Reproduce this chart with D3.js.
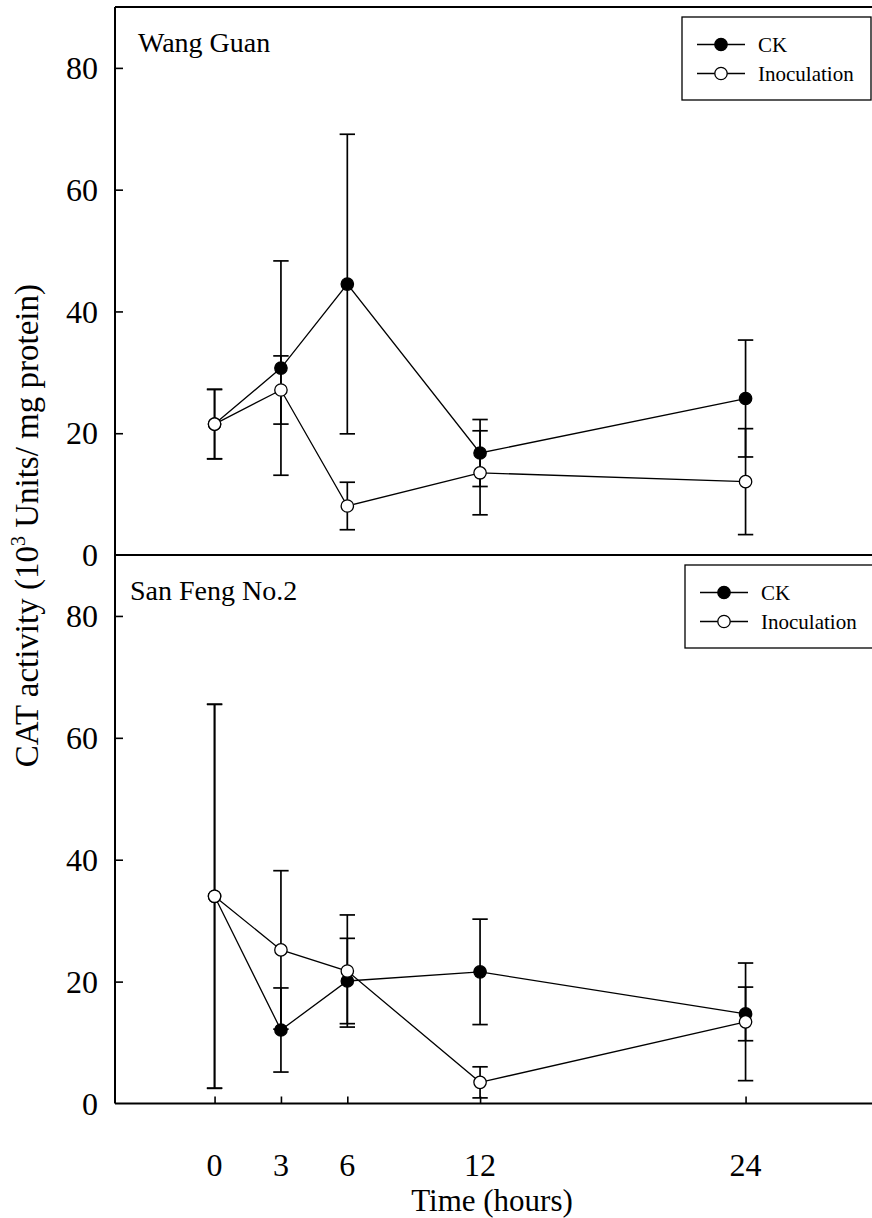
<!DOCTYPE html>
<html>
<head>
<meta charset="utf-8">
<script src="https://cdn.jsdelivr.net/npm/d3@7"></script>
<style>
  html, body { margin: 0; padding: 0; background: #fff; }
  svg { display: block; }
  text { font-family: "Liberation Serif", "Times New Roman", serif; fill: #000; }
</style>
</head>
<body>
<svg id="chart" width="872" height="1218"></svg>
<script>
// ---- data ----
const hours = [0, 3, 6, 12, 24];
const xTickLabels = ["0", "3", "6", "12", "24"];
const yTickValues = [0, 20, 40, 60, 80];
const seriesNames = ["CK", "Inoculation"];

const wgCK       = [21.5, 30.7, 44.5, 16.75, 25.7];
const wgCKErr    = [5.7, 17.6, 24.6, 5.5, 9.6];
const wgInoc     = [21.5, 27.1, 8.05, 13.5, 12.05];
const wgInocErr  = [5.7, 5.6, 3.9, 6.9, 8.7];

const sfCK       = [34.0, 12.06, 20.1, 21.6, 14.7];
const sfCKErr    = [31.5, 6.9, 7.0, 8.65, 4.4];
const sfInoc     = [34.0, 25.2, 21.74, 3.47, 13.4];
const sfInocErr  = [31.5, 13.0, 9.2, 2.55, 9.65];

const panels = [
  { title: "Wang Guan", ck: wgCK, ckErr: wgCKErr, inoc: wgInoc, inocErr: wgInocErr,
    top: 7, bottom: 555, titleX: 138, legendX: 682, topBorder: true, xTicks: false },
  { title: "San Feng No.2", ck: sfCK, ckErr: sfCKErr, inoc: sfInoc, inocErr: sfInocErr,
    top: 555, bottom: 1103.5, titleX: 130, legendX: 685, topBorder: false, xTicks: true }
];

// ---- layout ----
const svg = d3.select("#chart");
const left = 115;
const pxPerHour = 22.125;
const x = d3.scaleLinear().domain([-4.5, 30]).range([left, left + 34.5 * pxPerHour]);
const rightEdge = 872;
const tickFont = 32;
const markerR = 6.2;

panels.forEach((p, pi) => {
  const y = d3.scaleLinear().domain([0, 90]).range([p.bottom, p.top]);
  const g = svg.append("g");

  // y ticks (inward) and labels
  const yAxis = d3.axisRight(y).tickValues(yTickValues.filter(v => v > 0)).tickSize(8).tickFormat("");
  const ya = g.append("g").attr("transform", `translate(${left},0)`).call(yAxis);
  ya.select(".domain").remove();
  ya.selectAll("line").attr("stroke", "#000").attr("stroke-width", 1.6);

  g.selectAll(".ylab").data(yTickValues).enter().append("text")
    .attr("x", left - 17).attr("y", d => y(d))
    .attr("dy", "0.35em")
    .attr("text-anchor", "end")
    .attr("font-size", tickFont)
    .text(d => d);

  // axes lines
  g.append("line").attr("x1", left).attr("x2", left).attr("y1", y(90)).attr("y2", y(0))
    .attr("stroke", "#000").attr("stroke-width", 2);
  g.append("line").attr("x1", left).attr("x2", rightEdge).attr("y1", y(0)).attr("y2", y(0))
    .attr("stroke", "#000").attr("stroke-width", 2);
  if (p.topBorder) {
    g.append("line").attr("x1", left).attr("x2", rightEdge).attr("y1", y(90)).attr("y2", y(90))
      .attr("stroke", "#000").attr("stroke-width", 2);
  }

  if (p.xTicks) {
    const xAxis = d3.axisTop(x).tickValues(hours).tickSize(7).tickFormat("");
    const xa = g.append("g").attr("transform", `translate(0,${y(0)})`).call(xAxis);
    xa.select(".domain").remove();
    xa.selectAll("line").attr("stroke", "#000").attr("stroke-width", 1.6);
    g.selectAll(".xlab").data(hours).enter().append("text")
      .attr("x", d => x(d)).attr("y", y(0) + 72)
      .attr("text-anchor", "middle")
      .attr("font-size", tickFont)
      .text((d, i) => xTickLabels[i]);
  }

  // panel title
  g.append("text").attr("x", p.titleX).attr("y", p.top + 45)
    .attr("font-size", 28).text(p.title);

  const series = [
    { vals: p.ck, err: p.ckErr, fill: "#000" },
    { vals: p.inoc, err: p.inocErr, fill: "#fff" }
  ];
  const line = d3.line().x((d, i) => x(hours[i])).y(d => y(d));

  series.forEach(s => {
    g.append("path").attr("d", line(s.vals)).attr("fill", "none")
      .attr("stroke", "#000").attr("stroke-width", 1.3);
  });
  // error bars
  series.forEach(s => {
    const eb = g.append("g");
    s.vals.forEach((v, i) => {
      const cx = x(hours[i]);
      eb.append("line").attr("x1", cx).attr("x2", cx)
        .attr("y1", y(v + s.err[i])).attr("y2", y(v - s.err[i]))
        .attr("stroke", "#000").attr("stroke-width", 1.7);
      [v + s.err[i], v - s.err[i]].forEach(e => {
        eb.append("line").attr("x1", cx - 7.7).attr("x2", cx + 7.7)
          .attr("y1", y(e)).attr("y2", y(e))
          .attr("stroke", "#000").attr("stroke-width", 1.7);
      });
    });
  });
  // markers
  series.forEach(s => {
    g.selectAll(null).data(s.vals).enter().append("circle")
      .attr("cx", (d, i) => x(hours[i])).attr("cy", d => y(d))
      .attr("r", markerR).attr("fill", s.fill)
      .attr("stroke", "#000").attr("stroke-width", 1.3);
  });

  // legend
  const lx = p.legendX, ly = p.top + 10;
  const lg = g.append("g");
  lg.append("rect").attr("x", lx).attr("y", ly).attr("width", 189).attr("height", 83)
    .attr("fill", "#fff").attr("stroke", "#000").attr("stroke-width", 1.3);
  seriesNames.forEach((name, i) => {
    const ry = ly + 27.5 + i * 29;
    lg.append("line").attr("x1", lx + 15).attr("x2", lx + 63).attr("y1", ry).attr("y2", ry)
      .attr("stroke", "#000").attr("stroke-width", 1.3);
    lg.append("circle").attr("cx", lx + 39).attr("cy", ry).attr("r", markerR)
      .attr("fill", series[i].fill).attr("stroke", "#000").attr("stroke-width", 1.3);
    lg.append("text").attr("x", lx + 76).attr("y", ry + 7)
      .attr("font-size", 21).text(name);
  });
});

// x axis title
svg.append("text").attr("x", 492).attr("y", 1211)
  .attr("text-anchor", "middle").attr("font-size", 31).text("Time (hours)");

// y axis title (end of text at the top)
const yt = svg.append("text")
  .attr("transform", "translate(38,284) rotate(-90)")
  .attr("text-anchor", "end").attr("font-size", 33);
yt.append("tspan").text("CAT activity (10");
yt.append("tspan").attr("font-size", 20).attr("dy", -13).text("3");
yt.append("tspan").attr("dy", 13).text(" Units/ mg protein)");
</script>
</body>
</html>
